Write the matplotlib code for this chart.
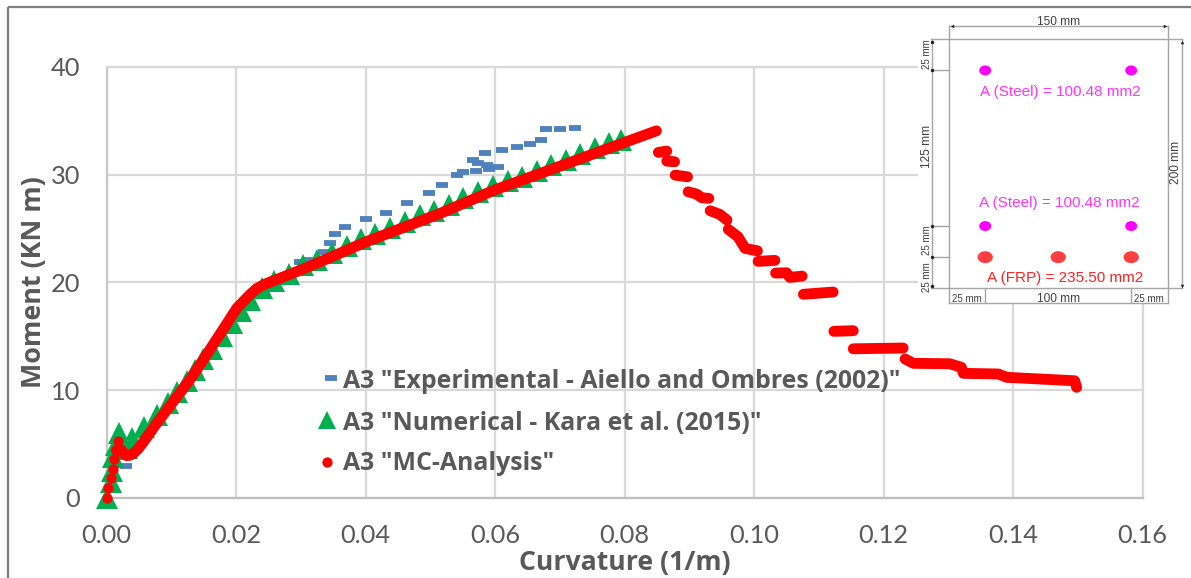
import matplotlib
matplotlib.use("Agg")
import matplotlib.pyplot as plt
from matplotlib.patches import Ellipse

W, H = 1191, 578
GREY = "#595959"
GRID = "#d9d9d9"
FONT = "Lato"
BOLD = "Open Sans"
SANS = "Liberation Sans"

blue_x = [.0030,.0299,.0314,.0335,.0345,.0353,.0368,.0401,.0432,.0464,.0497,.0518,.0541,.0551,.0570,.0566,.0574,.0588,.0591,.0605,.0585,.0611,.0633,.0653,.0670,.0679,.0700,.0723]
blue_y = [2.97,21.85,22.07,22.84,23.62,24.46,25.1,25.9,26.46,27.33,28.29,29.06,29.96,30.24,30.36,31.36,31.1,30.89,30.49,30.7,32.0,32.28,32.53,32.81,33.24,34.2,34.26,34.35]

green_x = [0,.0006,.0008,.001,.0015,.0019,.0023,.0032,.0039,.0058,.0077,.0094,.0109,.0124,.0136,.0149,.0162,.0178,.0193,.0207,.0222,.0240,.0258,.0281,
           .0303,.0325,.0348,.0371,.0393,.0415,.0437,.0461,.0484,.0505,.0529,.0551,.0574,.0596,.0619,.0642,.0664,.0686,.0709,.0731,.0754,.0776,.0795]
green_y = [0,1.43,2.5,3.75,4.9,5.98,4.5,4.6,5.57,6.55,7.66,8.8,9.83,10.82,11.9,12.84,13.79,15.0,16.2,17.3,18.4,19.5,20.1,20.8,
           21.59,22.03,22.73,23.42,23.98,24.51,25.06,25.62,26.21,26.67,27.16,27.84,28.37,28.93,29.45,29.8,30.32,30.94,31.34,31.93,32.48,32.92,33.26]

red_start_x = [0,.00025,.0006,.0009,.0012,.0015,.0018]
red_start_y = [0,.9,1.8,2.7,3.6,4.4,5.3]
red_rise_x = [.0015,.0023,.0027,.0031,.0036,.0041,.0048,.0057,.0077,.0129,.0149,.018,.0201,.0222,.0232,.0245,.0283,.0314,.04,.0515,.06,.0669,.08,.0849]
red_rise_y = [4.4,4.4,4.05,3.9,3.95,4.1,4.5,5.2,6.9,11.0,12.8,15.65,17.6,18.9,19.44,19.85,20.75,21.5,23.75,26.4,28.6,30.1,33.0,34.07]
red_fall_x = [.0852,.0865,None,.0865,.0877,None,.0878,.0897,None,.0898,.0911,.0919,.0930,None,.0932,.0947,.0958,None,
              .0960,.0975,.0986,.1005,None,.1006,.1032,None,.1033,.1050,.1055,.1074,None,.1076,.1122,None,.1123,.1153,None,.1153,.1230,None,
              .1233,.1246,.1302,.1320,.1323,.1377,.1390,.1495,.1498]
red_fall_y = [32.07,32.19,None,31.26,31.2,None,29.96,29.8,None,28.41,28.2,27.86,27.8,None,26.65,26.31,25.78,None,
              24.92,24.23,23.15,22.93,None,21.95,22.04,None,20.86,20.89,20.46,20.58,None,18.89,19.1,None,15.45,15.51,None,13.83,13.9,None,
              12.88,12.48,12.44,12.11,11.55,11.49,11.18,10.86,10.25]

x_ticks = [0,.02,.04,.06,.08,.10,.12,.14,.16]
x_labels = ["0.00","0.02","0.04","0.06","0.08","0.10","0.12","0.14","0.16"]
y_ticks = [0,10,20,30,40]
legend_labels = ['A3 "Experimental - Aiello and Ombres (2002)"','A3 "Numerical - Kara et al. (2015)"','A3 "MC-Analysis"']

# cross-section drawing, in mm
steel_x = [25,125,25,125]
steel_y = [175,175,50,50]
frp_x = [25,75,125]
frp_y = [25,25,25]

def rect(l, t, r, b):
    return [l/W, 1-b/H, (r-l)/W, (b-t)/H]

fig = plt.figure(figsize=(W/100, H/100), dpi=100, facecolor="white")
ax = fig.add_axes(rect(106.7, 67, 1142.7, 497.7))
ax.set_xlim(0,.16); ax.set_ylim(0,40)
ax.set_xticks(x_ticks); ax.set_xticklabels(x_labels)
ax.set_yticks(y_ticks)
ax.grid(True, color=GRID, lw=1.6); ax.set_axisbelow(True)
for s in ("top","right"):
    ax.spines[s].set_color(GRID); ax.spines[s].set_linewidth(1.6)
ax.spines["left"].set_color("#c8c8c8"); ax.spines["left"].set_linewidth(1.6)
ax.spines["bottom"].set_color("#bfbfbf"); ax.spines["bottom"].set_linewidth(1.6)
ax.tick_params(axis="x", length=0, labelsize=18.3, labelcolor=GREY, pad=19)
ax.tick_params(axis="y", length=0, labelsize=18.3, labelcolor=GREY, pad=19)
for t in ax.get_xticklabels()+ax.get_yticklabels():
    t.set_fontfamily(FONT)

ax.plot(blue_x, blue_y, ls="none", marker="_", ms=8, mew=4.2, color="#4f81bd", clip_on=False, zorder=3)
ax.plot(green_x, green_y, ls="none", marker="^", ms=16, mew=0, color="#00b050", clip_on=False, zorder=4)
ax.plot(red_start_x, red_start_y, ls="none", marker="o", ms=7.4, mew=0, color="#ff0000", clip_on=False, zorder=5)
ax.plot(red_rise_x, red_rise_y, color="#ff0000", lw=7.8, solid_capstyle="round", solid_joinstyle="round", clip_on=False, zorder=5)
ax.plot([float("nan") if v is None else v for v in red_fall_x],
        [float("nan") if v is None else v for v in red_fall_y],
        color="#ff0000", lw=7.8, solid_capstyle="round", solid_joinstyle="round", clip_on=False, zorder=5)

bold = dict(family=BOLD, weight="bold", color=GREY)
fig.text(34/W, 1-282/H, "Moment (KN m)", rotation=90, ha="center", va="center", fontsize=19.4, **bold)
fig.text(624.5/W, 1-563/H, "Curvature (1/m)", ha="center", va="center", fontsize=19.2, **bold)
for lab, py in zip(legend_labels, [381,423,464]):
    fig.text(343/W, 1-py/H, lab, ha="left", va="center", fontsize=17.9, **bold)

# legend keys
key = fig.add_axes([0,0,1,1], zorder=6); key.set_axis_off(); key.patch.set_alpha(0)
key.set_xlim(0,W); key.set_ylim(H,0)
key.plot([331],[378], marker="_", ms=8, mew=4.2, color="#4f81bd")
key.plot([326.7],[420], marker="^", ms=13, mew=0, color="#00b050")
key.plot([326.7],[461.5], marker="o", ms=7.4, mew=0, color="#ff0000")

# outer frame
for xs, ys in (([8,1191],[7,7]), ([8,8],[7,578])):
    key.plot(xs, ys, color="#7f7f7f", lw=1.6, solid_capstyle="butt")

# inset white panel
panel = fig.add_axes(rect(917.5, 8.5, 1191, 303.5), zorder=7); panel.set_axis_off()
panel.set_xlim(0,1); panel.set_ylim(0,1)
panel.add_patch(plt.Rectangle((0,0),1,1,color="white",lw=0))

sec = fig.add_axes(rect(948.7, 39.3, 1167.7, 288.3), zorder=8); sec.set_axis_off()
sec.patch.set_alpha(0)
sec.set_xlim(0,150); sec.set_ylim(0,200)
ln = dict(color="#a6a6a6", lw=1, clip_on=False, zorder=1)
sec.plot([-12,160],[200,200],**ln); sec.plot([-12,160],[0,0],**ln)
sec.plot([0,0],[-12,211],**ln); sec.plot([150,150],[-12,211],**ln)
sec.plot([0,150],[210.7,210.7],**ln); sec.plot([-11.6,-11.6],[0,200],**ln)
sec.plot([160,160],[0,200],**ln)
sec.plot([-11.6,0],[175,175],**ln); sec.plot([-11.6,0],[50,50],**ln); sec.plot([-11.6,0],[25,25],**ln)
sec.plot([25,25],[-12,0],**ln); sec.plot([125,125],[-12,0],**ln); sec.plot([0,150],[-12,-12],**ln)
arrow = dict(color="#202020", ms=2.5, mew=0, ls="none", clip_on=False, zorder=2)
sec.plot([2],[210.7],marker="<",**arrow); sec.plot([148],[210.7],marker=">",**arrow)
sec.plot([160],[198],marker="^",**arrow); sec.plot([160],[2],marker="v",**arrow)
sec.plot([-11.6]*5,[198,175,50,25,2],marker="o",**arrow)

for x,y in zip(steel_x, steel_y):
    sec.add_patch(Ellipse((x,y), 8.2, 8, color="#ff00ff", lw=0))
for x,y in zip(frp_x, frp_y):
    sec.add_patch(Ellipse((x,y), 10.5, 9.6, color="#ff4040", lw=0))
lab = dict(fontsize=11, family=SANS, ha="center", va="center")
sec.text(76.2,157.7,"A (Steel) = 100.48 mm2",color="#ff33ff",**lab)
sec.text(75.5,68.3,"A (Steel) = 100.48 mm2",color="#ff33ff",**lab)
sec.text(80,8.3,"A (FRP) = 235.50 mm2",color="#ff2020",**lab)
dim = dict(color="#404040", fontsize=8.6, family=SANS, ha="center", va="center")
small = dict(color="#404040", fontsize=7, family=SANS, ha="center", va="center")
sec.text(75,214,"150 mm",**dim); sec.text(75,-8.8,"100 mm",**dim)
sec.text(12.3,-8.8,"25 mm",**small); sec.text(137,-8.8,"25 mm",**small)
sec.text(155.6,100.7,"200 mm",rotation=90,**dim)
sec.text(-15,113.7,"125 mm",rotation=90,**dim)
for y in (188,38.8,9.3):
    sec.text(-15,y,"25 mm",rotation=90,**small)

fig.savefig("out.png", dpi=100)
